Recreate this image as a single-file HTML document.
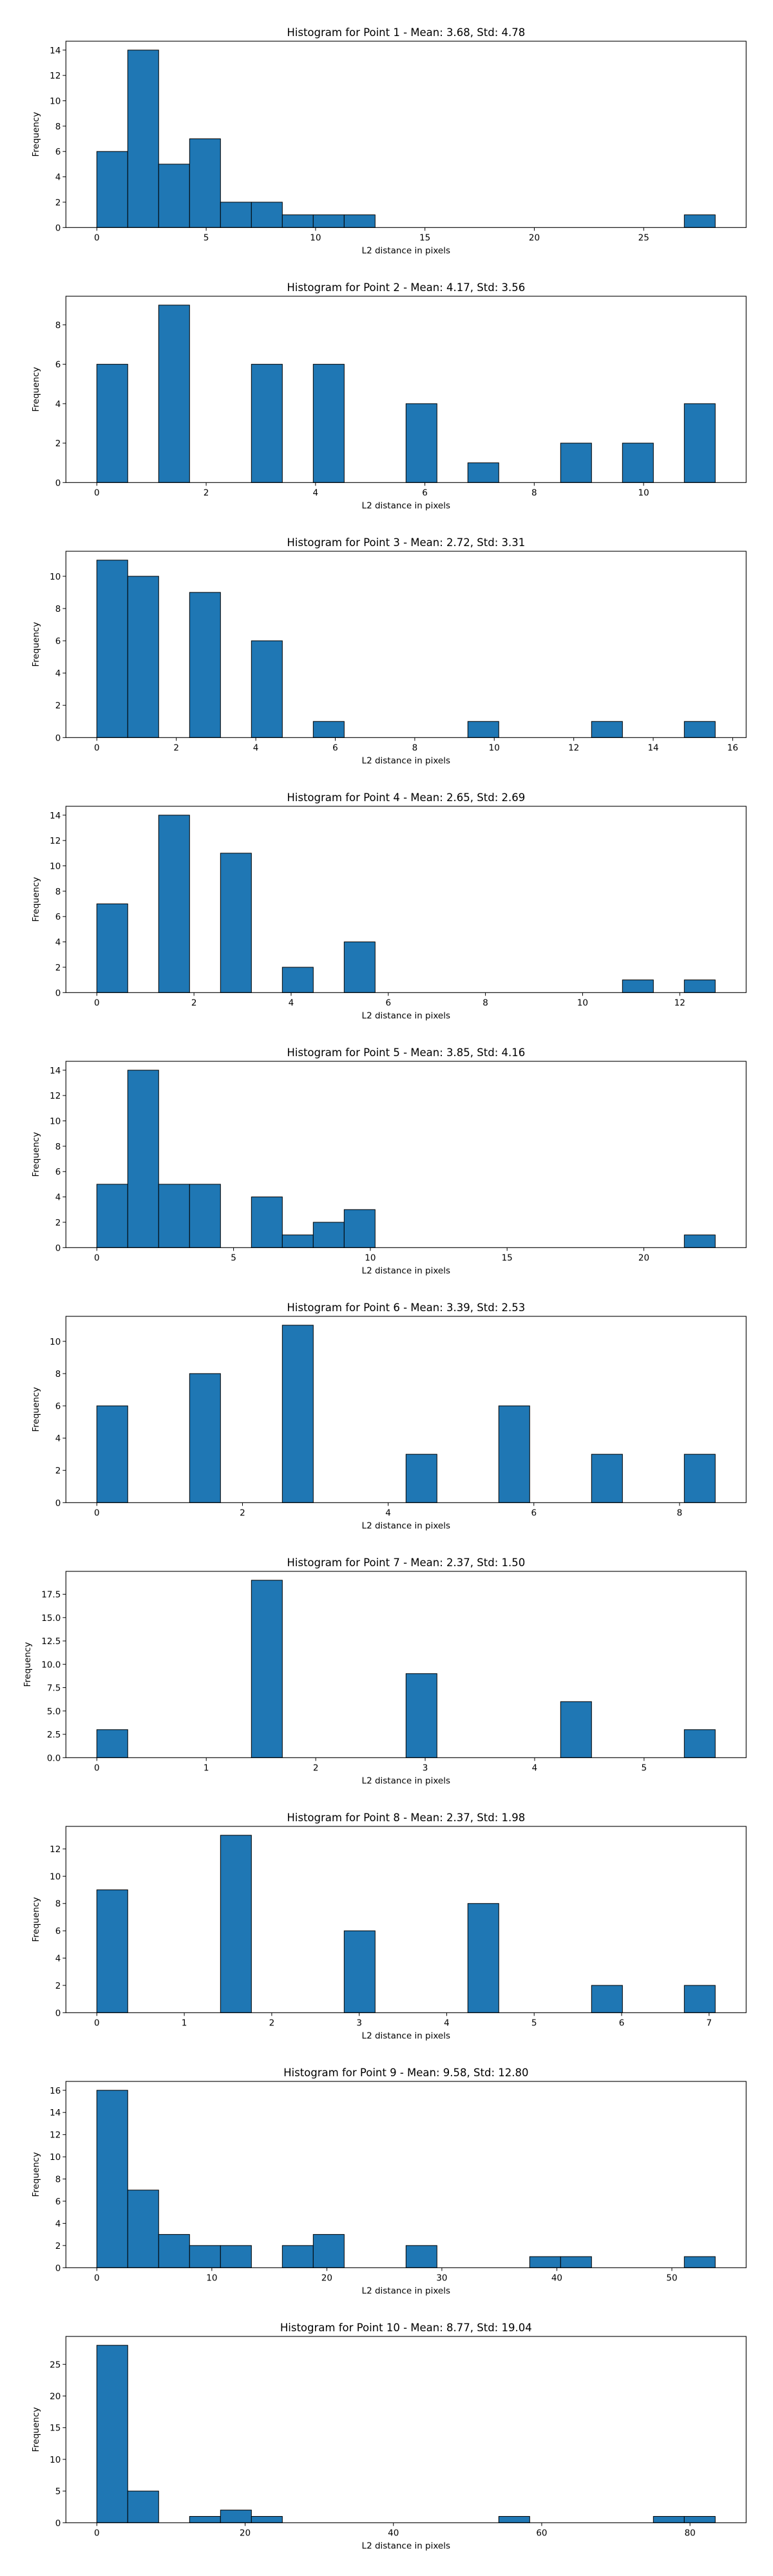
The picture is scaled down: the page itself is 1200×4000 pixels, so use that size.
<!DOCTYPE html>
<html><head><meta charset="utf-8">
<style>
html,body{margin:0;padding:0;background:#fff;}
svg{display:block;}
text{font-family:"DejaVu Sans","Liberation Sans",sans-serif;fill:#000;}
</style></head>
<body>
<svg id="chart" width="1200" height="4000" viewBox="0 0 1200 4000" xmlns="http://www.w3.org/2000/svg"></svg>
<script>
// Panel data
const titles = [
 "Histogram for Point 1 - Mean: 3.68, Std: 4.78",
 "Histogram for Point 2 - Mean: 4.17, Std: 3.56",
 "Histogram for Point 3 - Mean: 2.72, Std: 3.31",
 "Histogram for Point 4 - Mean: 2.65, Std: 2.69",
 "Histogram for Point 5 - Mean: 3.85, Std: 4.16",
 "Histogram for Point 6 - Mean: 3.39, Std: 2.53",
 "Histogram for Point 7 - Mean: 2.37, Std: 1.50",
 "Histogram for Point 8 - Mean: 2.37, Std: 1.98",
 "Histogram for Point 9 - Mean: 9.58, Std: 12.80",
 "Histogram for Point 10 - Mean: 8.77, Std: 19.04"
];
const maxValues = [28.27, 11.31, 15.56, 12.73, 22.61, 8.49, 5.65, 7.07, 53.77, 83.4];
const counts1 = [6,14,5,7,2,2,1,1,1,0,0,0,0,0,0,0,0,0,0,1];
const counts2 = [6,0,9,0,0,6,0,6,0,0,4,0,1,0,0,2,0,2,0,4];
const counts3 = [11,10,0,9,0,6,0,1,0,0,0,0,1,0,0,0,1,0,0,1];
const counts4 = [7,0,14,0,11,0,2,0,4,0,0,0,0,0,0,0,0,1,0,1];
const counts5 = [5,14,5,5,0,4,1,2,3,0,0,0,0,0,0,0,0,0,0,1];
const counts6 = [6,0,0,8,0,0,11,0,0,0,3,0,0,6,0,0,3,0,0,3];
const counts7 = [3,0,0,0,0,19,0,0,0,0,9,0,0,0,0,6,0,0,0,3];
const counts8 = [9,0,0,0,13,0,0,0,6,0,0,0,8,0,0,0,2,0,0,2];
const counts9 = [16,7,3,2,2,0,2,3,0,0,2,0,0,0,1,1,0,0,0,1];
const counts10 = [28,5,0,1,2,1,0,0,0,0,0,0,0,1,0,0,0,0,1,1];
const allCounts = [counts1,counts2,counts3,counts4,counts5,counts6,counts7,counts8,counts9,counts10];
const xTicks = [[0,5,10,15,20,25],[0,2,4,6,8,10],[0,2,4,6,8,10,12,14,16],[0,2,4,6,8,10,12],[0,5,10,15,20],[0,2,4,6,8],[0,1,2,3,4,5],[0,1,2,3,4,5,6,7],[0,10,20,30,40,50],[0,20,40,60,80]];
const yTicks = [[0,2,4,6,8,10,12,14],[0,2,4,6,8],[0,2,4,6,8,10],[0,2,4,6,8,10,12,14],[0,2,4,6,8,10,12,14],[0,2,4,6,8,10],[0,2.5,5,7.5,10,12.5,15,17.5],[0,2,4,6,8,10,12],[0,2,4,6,8,10,12,14,16],[0,5,10,15,20,25]];
const yTickLabels = [null,null,null,null,null,null,["0.0","2.5","5.0","7.5","10.0","12.5","15.0","17.5"],null,null,null];

const NS="http://www.w3.org/2000/svg";
const svg=document.getElementById('chart');
const L=102.3, R=1158.3, H=289.3, TOP0=64, STEP=396;
function mk(tag,attrs,parent){const e=document.createElementNS(NS,tag);for(const k in attrs)e.setAttribute(k,attrs[k]);(parent||svg).appendChild(e);return e;}

for(let p=0;p<10;p++){
  const top=TOP0+p*STEP, bot=top+H;
  const M=maxValues[p], counts=allCounts[p];
  const ymax=Math.max(...counts)*1.05;
  const xs=v=>L+(v+0.05*M)/(1.1*M)*(R-L);
  const ys=v=>bot-v/ymax*H;
  const g=mk('g',{});
  
  
  const t=mk('text',{x:(L+R)/2,y:top-8,'text-anchor':'middle','font-size':16.5},g);
  t.textContent=titles[p];
  
  
  const bw=M/20;
  counts.forEach((c,i)=>{
    const x0=xs(i*bw), x1=xs((i+1)*bw);
    const r=mk('rect',{x:x0,y:ys(c),width:x1-x0,height:bot-ys(c),fill:'#1f77b4',stroke:'#000','stroke-width':1},g);
    
    
  });
  const frame=mk('rect',{x:L,y:top,width:R-L,height:H,fill:'none',stroke:'#000','stroke-width':1.1},g);
  
  
  xTicks[p].forEach(v=>{
    const x=xs(v);
    mk('line',{x1:x,x2:x,y1:bot,y2:bot+5,stroke:'#000','stroke-width':1},g);
    const tx=mk('text',{x:x,y:bot+20,'text-anchor':'middle','font-size':13.5},g);
    tx.textContent=String(v);
    
    
  });
  yTicks[p].forEach((v,k)=>{
    const y=ys(v);
    mk('line',{x1:L-5,x2:L,y1:y,y2:y,stroke:'#000','stroke-width':1},g);
    const ty=mk('text',{x:L-8,y:y+5,'text-anchor':'end','font-size':13.5},g);
    ty.textContent=yTickLabels[p]?yTickLabels[p][k]:String(v);
    
    
  });
  const xl=mk('text',{x:(L+R)/2,y:bot+40,'text-anchor':'middle','font-size':13.5},g);
  xl.textContent='L2 distance in pixels';
  
  
  const ylx=(p===6)?47:60;
  const yl=mk('text',{x:ylx,y:(top+bot)/2,'text-anchor':'middle','font-size':13.5,transform:'rotate(-90 '+ylx+' '+((top+bot)/2)+')'},g);
  yl.textContent='Frequency';
  
  
}
</script>
</body></html>
